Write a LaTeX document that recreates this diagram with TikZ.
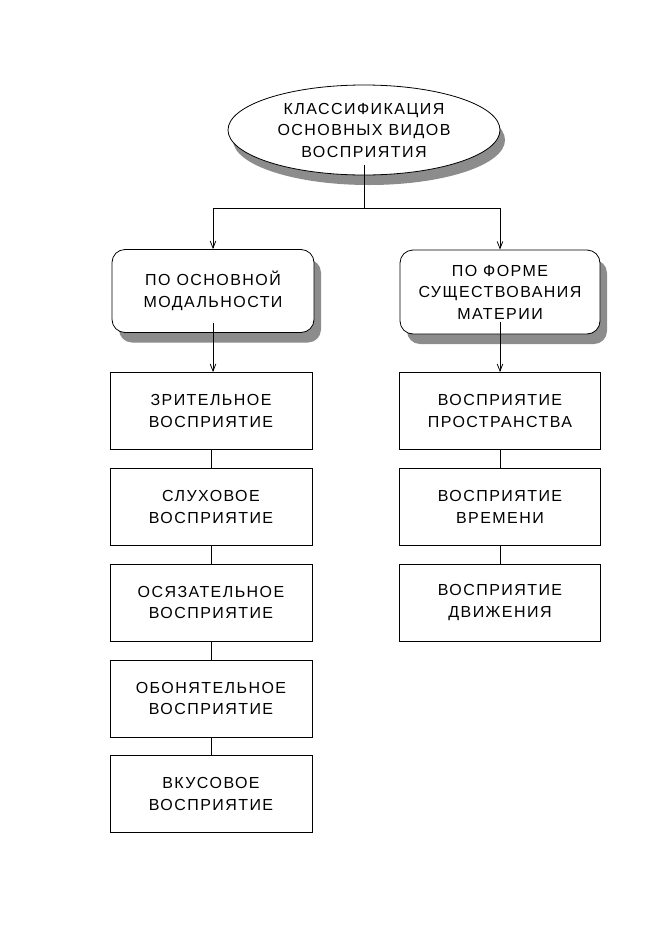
\documentclass[tikz,border=0pt]{standalone}
\usepackage{fontspec}
\setmainfont{Liberation Sans}[LetterSpace=9]
\usetikzlibrary{arrows.meta,positioning,shapes.geometric,shadows}

\begin{document}
\begin{tikzpicture}[x=1pt, y=-1pt,
  kind/.style={draw, line width=0.8pt, minimum width=202pt, minimum height=77pt, font=\fontsize{16}{21.5}\selectfont, align=center, inner sep=2pt},
  group/.style={kind, rounded corners=13pt, minimum height=83pt, fill=white,
    drop shadow={shadow xshift=7pt, shadow yshift=-10pt, fill=black!45, opacity=1}},
  arr/.style={-{Straight Barb[length=2.5mm, width=2mm]}, line width=0.8pt},
  link/.style={line width=0.8pt}
]
\useasboundingbox (0,0) rectangle (661,935);
\node[kind, ellipse, minimum width=272pt, minimum height=90pt, inner sep=0pt, fill=white,
  drop shadow={shadow xshift=5pt, shadow yshift=-10pt, fill=black!45, opacity=1}] (root) at (364,130)
  {КЛАССИФИКАЦИЯ\\ОСНОВНЫХ ВИДОВ\\ВОСПРИЯТИЯ};
\node[group] (modal) at (213,291) {ПО ОСНОВНОЙ\\МОДАЛЬНОСТИ};
\node[group, minimum width=200pt, minimum height=84pt] (matter) at (500,292) {ПО ФОРМЕ\\СУЩЕСТВОВАНИЯ\\МАТЕРИИ};
% modalities
\node[kind] (sight) at (211,411) {ЗРИТЕЛЬНОЕ\\ВОСПРИЯТИЕ};
\node[kind, below=18pt of sight] (hear) {СЛУХОВОЕ\\ВОСПРИЯТИЕ};
\node[kind, below=18pt of hear] (touch) {ОСЯЗАТЕЛЬНОЕ\\ВОСПРИЯТИЕ};
\node[kind, below=18pt of touch] (smell) {ОБОНЯТЕЛЬНОЕ\\ВОСПРИЯТИЕ};
\node[kind, below=18pt of smell] (taste) {ВКУСОВОЕ\\ВОСПРИЯТИЕ};
% forms of matter
\node[kind, minimum width=201pt] (space) at (500,411) {ВОСПРИЯТИЕ\\ПРОСТРАНСТВА};
\node[kind, minimum width=201pt, below=18pt of space] (time) {ВОСПРИЯТИЕ\\ВРЕМЕНИ};
\node[kind, minimum width=201pt, below=18pt of time] (motion) {ВОСПРИЯТИЕ\\ДВИЖЕНИЯ};
\coordinate (split) at (root.south |- 0,208);
\draw[link] ([yshift=10pt]root.south) -- (split);
\draw[arr] (split) -| (modal.north);
\draw[arr] (split) -| (matter.north);
\draw[arr] ([yshift=10pt]modal.south) -- (modal.south |- sight.north);
\draw[arr] ([yshift=12pt]matter.south) -- (space.north);
\foreach \a/\b in {sight/hear, hear/touch, touch/smell, smell/taste, space/time, time/motion}
  \draw[link] (\a.south) -- (\b.north);
\end{tikzpicture}
\end{document}
